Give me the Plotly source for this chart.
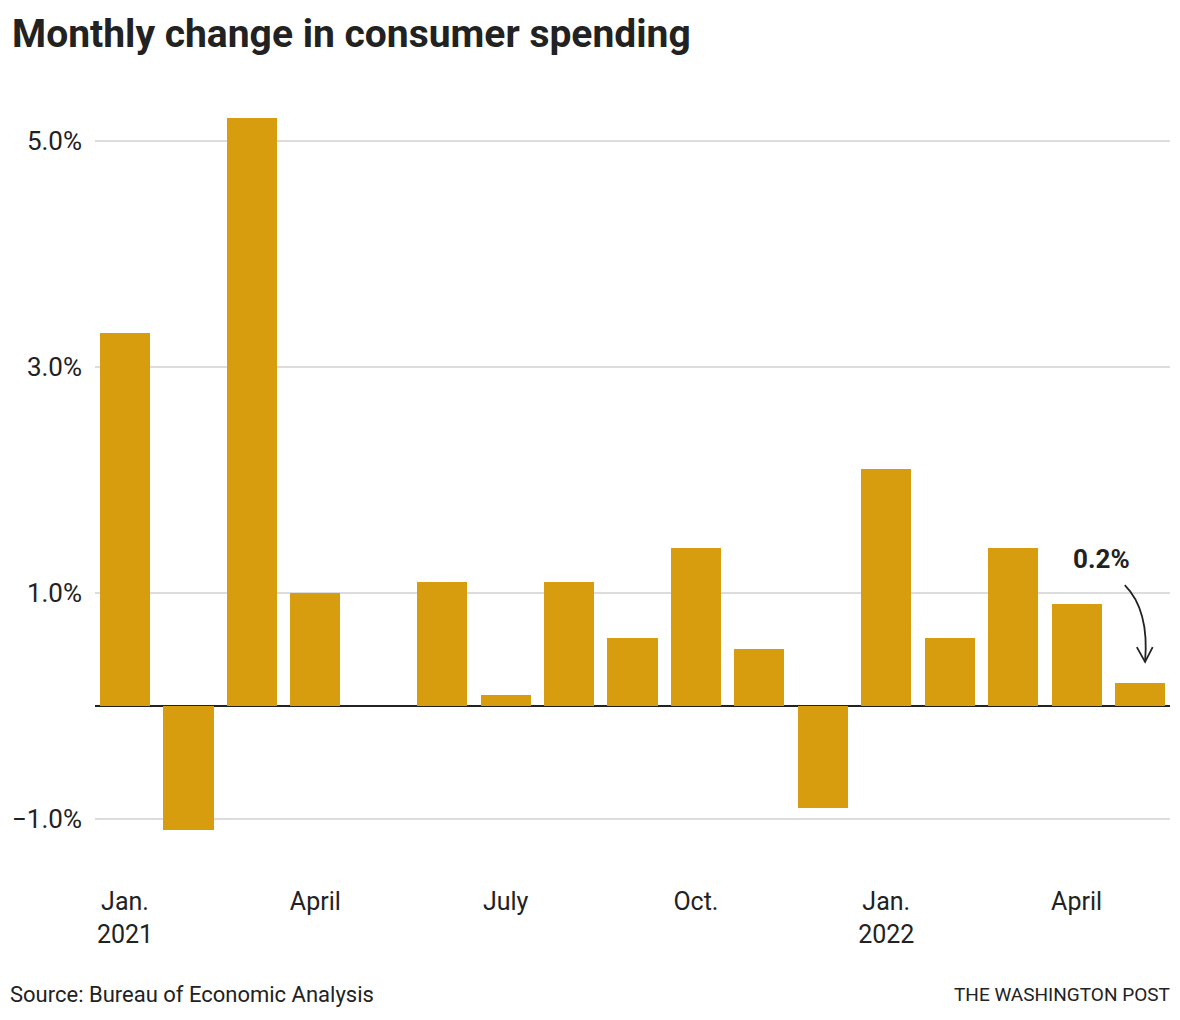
import plotly.graph_objects as go

months = ["Jan. 2021", "Feb. 2021", "Mar. 2021", "Apr. 2021", "May 2021", "Jun. 2021",
          "Jul. 2021", "Aug. 2021", "Sep. 2021", "Oct. 2021", "Nov. 2021", "Dec. 2021",
          "Jan. 2022", "Feb. 2022", "Mar. 2022", "Apr. 2022", "May 2022"]
change = [3.3, -1.1, 5.2, 1.0, 0.0, 1.1, 0.1, 1.1, 0.6, 1.4, 0.5, -0.9,
          2.1, 0.6, 1.4, 0.9, 0.2]
tick_idx = [0, 3, 6, 9, 12, 15]
tick_text = ["Jan.<br>2021", "April", "July", "Oct.", "Jan.<br>2022", "April"]
y_ticks = [-1, 1, 3, 5]
y_tick_text = ["\u22121.0%", "1.0%", "3.0%", "5.0%"]

x = list(range(len(months)))
BAR = "#d89d0f"
TXT = "#222222"
FONT = "Liberation Sans Narrow, Roboto, Arial, sans-serif"

fig = go.Figure()
fig.add_trace(go.Bar(x=x, y=change, marker=dict(color=BAR, line=dict(width=0)),
                     width=0.79, hovertext=months))

fig.update_layout(
    width=1180, height=1020,
    margin=dict(l=95, r=10, t=90, b=140),
    paper_bgcolor="white", plot_bgcolor="white",
    showlegend=False,
    font=dict(family=FONT, color=TXT, size=25),
    title=dict(text="<b>Monthly change in consumer spending</b>",
               x=12 / 1180, xanchor="left", xref="container",
               y=1 - 33 / 1020, yanchor="middle", yref="container",
               font=dict(size=39, color=TXT, family=FONT)),
    bargap=0,
)
fig.update_xaxes(range=[-0.473, 16.473], tickvals=tick_idx, ticktext=tick_text,
                 showgrid=False, zeroline=False, showline=False, ticks="",
                 ticklabelstandoff=4,
                 tickfont=dict(size=25, color=TXT))
fig.update_yaxes(range=[-1.54, 5.45], tickvals=y_ticks, ticktext=y_tick_text,
                 showgrid=True, gridcolor="#dcdcdc", gridwidth=2,
                 zeroline=True, zerolinecolor="#222222", zerolinewidth=2,
                 showline=False, ticks="", ticklabelstandoff=12,
                 tickfont=dict(size=26, color=TXT))

# annotation for the last value
fig.add_annotation(x=15.4, y=1.3, xref="x", yref="y", text="<b>0.2%</b>",
                   showarrow=False, font=dict(size=26, color=TXT, family=FONT),
                   xanchor="center", yanchor="middle")
fig.add_shape(type="path", xref="x", yref="y",
              path="M 15.76 1.07 Q 16.15 0.85 16.08 0.39",
              line=dict(color=TXT, width=1.8))
fig.add_shape(type="path", xref="x", yref="y",
              path="M 15.95 0.52 L 16.08 0.39 L 16.2 0.52",
              line=dict(color=TXT, width=1.8))

fig.add_annotation(x=0, y=0, xref="paper", yref="paper", xshift=-87, yshift=-114,
                   text="Source: Bureau of Economic Analysis", showarrow=False,
                   xanchor="left", yanchor="middle",
                   font=dict(size=22, color=TXT, family=FONT))
fig.add_annotation(x=1, y=0, xref="paper", yref="paper", xshift=2, yshift=-114,
                   text="THE WASHINGTON POST", showarrow=False,
                   xanchor="right", yanchor="middle",
                   font=dict(size=19, color=TXT, family=FONT))

fig.write_html("out.html")
